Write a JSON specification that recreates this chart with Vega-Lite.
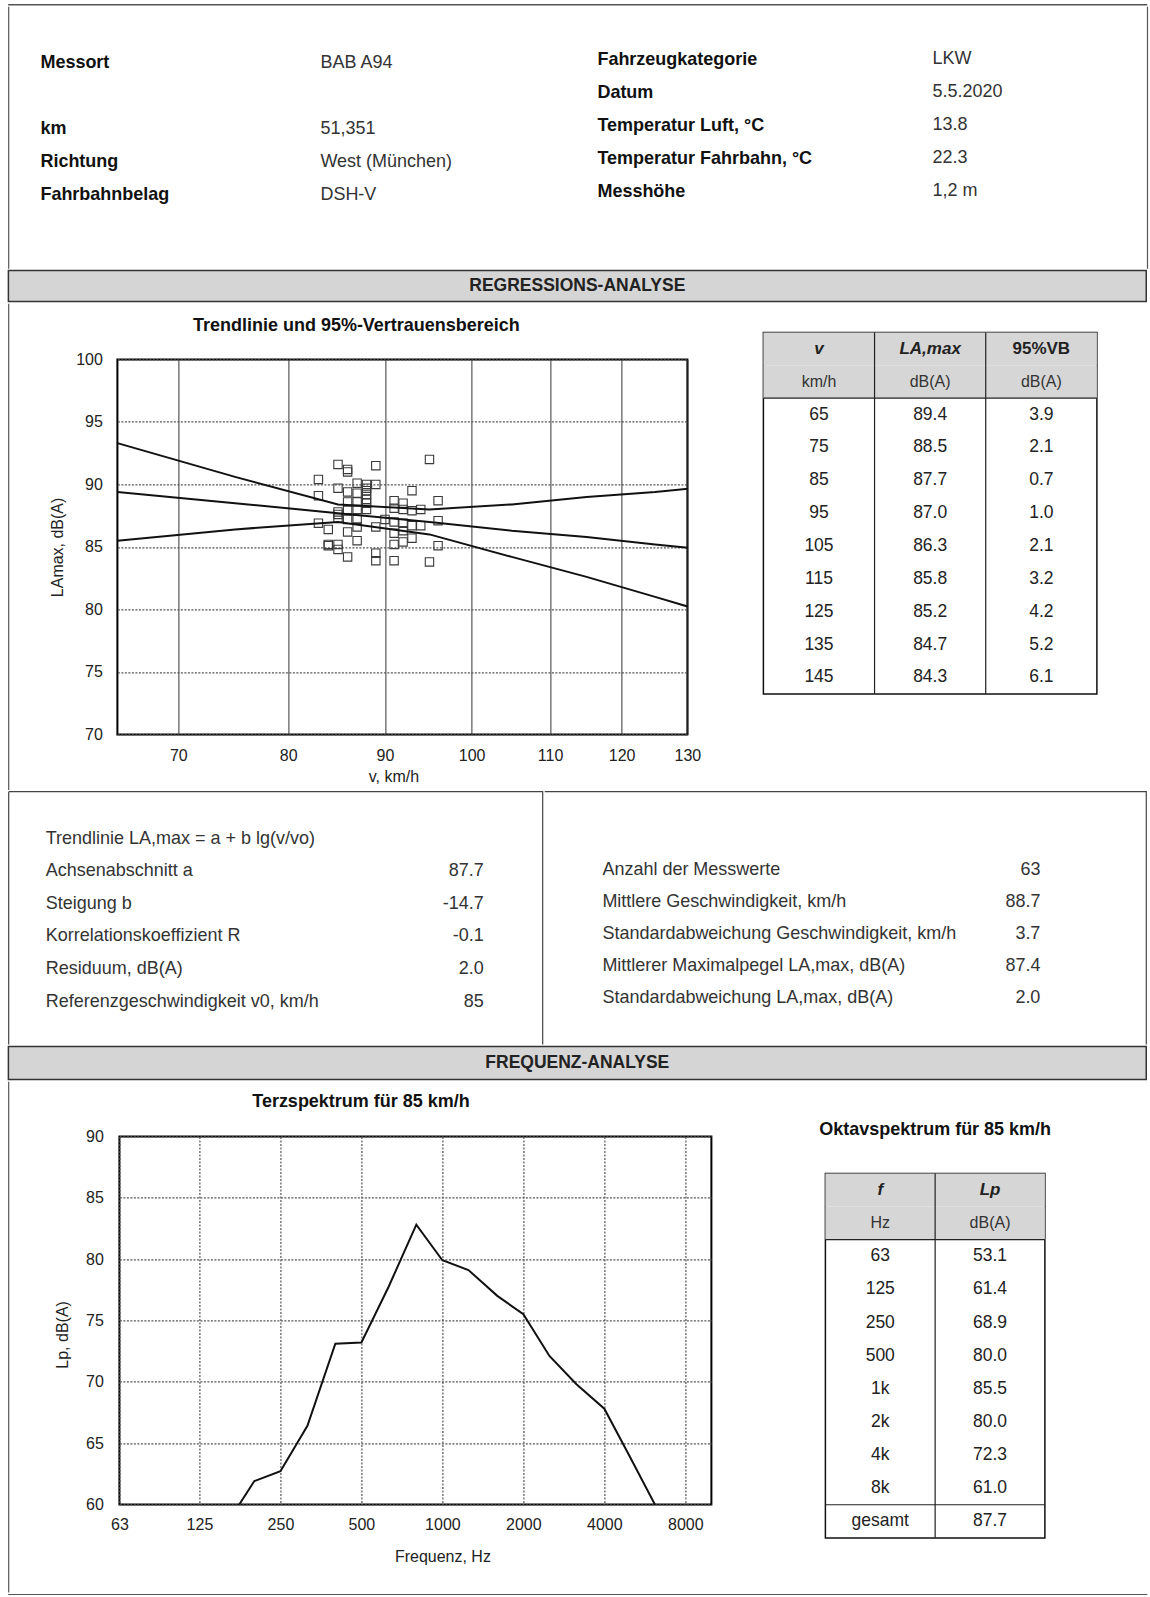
{
"$schema": "https://vega.github.io/schema/vega-lite/v6.json",
"background": "white",
"padding": {"left": 7.4, "top": 3.4, "right": 0, "bottom": 0},
"config": {
  "view": {"stroke": null},
  "font": "Liberation Sans",
  "text": {"font": "Liberation Sans"},
  "axis": {"labelFont": "Liberation Sans", "titleFont": "Liberation Sans", "labelFontSize": 16, "titleFontSize": 16, "titleFontWeight": "normal", "labelColor": "#222", "titleColor": "#222", "domain": false, "ticks": false, "tickSize": 0, "labelFlush": false, "labelOverlap": false},
  "title": {"font": "Liberation Sans", "fontSize": 18, "fontWeight": "bold", "color": "#111", "frame": "group", "baseline": "bottom", "anchor": "middle"}
},
"datasets": {
  "kopf": [
    {"spalte": "A", "zeile": 1, "text": "Messort"},
    {"spalte": "A", "zeile": 3, "text": "km"},
    {"spalte": "A", "zeile": 4, "text": "Richtung"},
    {"spalte": "A", "zeile": 5, "text": "Fahrbahnbelag"},
    {"spalte": "B", "zeile": 1, "text": "BAB A94"},
    {"spalte": "B", "zeile": 3, "text": "51,351"},
    {"spalte": "B", "zeile": 4, "text": "West (München)"},
    {"spalte": "B", "zeile": 5, "text": "DSH-V"},
    {"spalte": "C", "zeile": 1, "text": "Fahrzeugkategorie"},
    {"spalte": "C", "zeile": 2, "text": "Datum"},
    {"spalte": "C", "zeile": 3, "text": "Temperatur Luft, °C"},
    {"spalte": "C", "zeile": 4, "text": "Temperatur Fahrbahn, °C"},
    {"spalte": "C", "zeile": 5, "text": "Messhöhe"},
    {"spalte": "D", "zeile": 1, "text": "LKW"},
    {"spalte": "D", "zeile": 2, "text": "5.5.2020"},
    {"spalte": "D", "zeile": 3, "text": "13.8"},
    {"spalte": "D", "zeile": 4, "text": "22.3"},
    {"spalte": "D", "zeile": 5, "text": "1,2 m"}
  ],
  "tabelle": [
    {"v": 65, "L": 89.4, "VB": 3.9, "oben": 93.3, "unten": 85.5},
    {"v": 75, "L": 88.5, "VB": 2.1, "oben": 90.6, "unten": 86.4},
    {"v": 85, "L": 87.7, "VB": 0.7, "oben": 88.4, "unten": 87.0},
    {"v": 95, "L": 87.0, "VB": 1.0, "oben": 88.0, "unten": 86.0},
    {"v": 105, "L": 86.3, "VB": 2.1, "oben": 88.4, "unten": 84.2},
    {"v": 115, "L": 85.8, "VB": 3.2, "oben": 89.0, "unten": 82.6},
    {"v": 125, "L": 85.2, "VB": 4.2, "oben": 89.4, "unten": 81.0},
    {"v": 135, "L": 84.7, "VB": 5.2, "oben": 89.9, "unten": 79.5},
    {"v": 145, "L": 84.3, "VB": 6.1, "oben": 90.4, "unten": 78.2}
  ],
  "kopfReg": [
    {"spalte": "v", "zeile": "k1", "text": "v"},
    {"spalte": "v", "zeile": "k2", "text": "km/h"},
    {"spalte": "L", "zeile": "k1", "text": "LA,max"},
    {"spalte": "L", "zeile": "k2", "text": "dB(A)"},
    {"spalte": "VB", "zeile": "k1", "text": "95%VB"},
    {"spalte": "VB", "zeile": "k2", "text": "dB(A)"}
  ],
  "messwerte": [
    {"v": 83, "L": 90.4}, {"v": 83, "L": 89.1}, {"v": 83, "L": 86.9},
    {"v": 84, "L": 86.4}, {"v": 84, "L": 85.1}, {"v": 84, "L": 85.2},
    {"v": 85, "L": 91.6}, {"v": 85, "L": 89.7}, {"v": 85, "L": 87.8}, {"v": 85, "L": 87.6}, {"v": 85, "L": 87.3}, {"v": 85, "L": 85.2}, {"v": 85, "L": 84.8},
    {"v": 86, "L": 91.2}, {"v": 86, "L": 91.0}, {"v": 86, "L": 89.4}, {"v": 86, "L": 88.6}, {"v": 86, "L": 88.0}, {"v": 86, "L": 87.2}, {"v": 86, "L": 86.2}, {"v": 86, "L": 84.2},
    {"v": 87, "L": 90.1}, {"v": 87, "L": 89.3}, {"v": 87, "L": 88.6}, {"v": 87, "L": 88.0}, {"v": 87, "L": 87.2}, {"v": 87, "L": 86.6}, {"v": 87, "L": 85.5},
    {"v": 88, "L": 90.0}, {"v": 88, "L": 89.7}, {"v": 88, "L": 89.5}, {"v": 88, "L": 89.2}, {"v": 88, "L": 88.8}, {"v": 88, "L": 88.5}, {"v": 88, "L": 88.0},
    {"v": 89, "L": 91.5}, {"v": 89, "L": 90.0}, {"v": 89, "L": 86.6}, {"v": 89, "L": 84.5}, {"v": 89, "L": 83.9},
    {"v": 90, "L": 87.2},
    {"v": 91, "L": 88.7}, {"v": 91, "L": 88.1}, {"v": 91, "L": 87.0}, {"v": 91, "L": 86.1}, {"v": 91, "L": 85.2}, {"v": 91, "L": 83.9},
    {"v": 92, "L": 88.5}, {"v": 92, "L": 88.0}, {"v": 92, "L": 86.9}, {"v": 92, "L": 86.3}, {"v": 92, "L": 85.4},
    {"v": 93, "L": 89.5}, {"v": 93, "L": 87.9}, {"v": 93, "L": 86.7}, {"v": 93, "L": 85.7},
    {"v": 94, "L": 88.0}, {"v": 94, "L": 86.7},
    {"v": 95, "L": 92.0}, {"v": 95, "L": 83.8},
    {"v": 96, "L": 88.7}, {"v": 96, "L": 87.1}, {"v": 96, "L": 85.1}
  ],
  "statsL": [
    {"zeile": 0, "text": "Trendlinie  LA,max = a + b lg(v/vo)"},
    {"zeile": 1, "text": "Achsenabschnitt a", "wert": "87.7"},
    {"zeile": 2, "text": "Steigung b", "wert": "-14.7"},
    {"zeile": 3, "text": "Korrelationskoeffizient R", "wert": "-0.1"},
    {"zeile": 4, "text": "Residuum, dB(A)", "wert": "2.0"},
    {"zeile": 5, "text": "Referenzgeschwindigkeit v0, km/h", "wert": "85"}
  ],
  "statsR": [
    {"zeile": 1, "text": "Anzahl der Messwerte", "wert": "63"},
    {"zeile": 2, "text": "Mittlere Geschwindigkeit, km/h", "wert": "88.7"},
    {"zeile": 3, "text": "Standardabweichung Geschwindigkeit, km/h", "wert": "3.7"},
    {"zeile": 4, "text": "Mittlerer Maximalpegel LA,max, dB(A)", "wert": "87.4"},
    {"zeile": 5, "text": "Standardabweichung LA,max, dB(A)", "wert": "2.0"}
  ],
  "terz": [
    {"f": 160, "Lp": 58.6}, {"f": 200, "Lp": 61.9}, {"f": 250, "Lp": 62.7}, {"f": 315, "Lp": 66.4},
    {"f": 400, "Lp": 73.1}, {"f": 500, "Lp": 73.2}, {"f": 630, "Lp": 77.7}, {"f": 800, "Lp": 82.8},
    {"f": 1000, "Lp": 79.9}, {"f": 1250, "Lp": 79.1}, {"f": 1600, "Lp": 77.0}, {"f": 2000, "Lp": 75.5},
    {"f": 2500, "Lp": 72.1}, {"f": 3150, "Lp": 69.8}, {"f": 4000, "Lp": 67.8}, {"f": 5000, "Lp": 63.8},
    {"f": 6300, "Lp": 59.6}
  ],
  "oktav": [
    {"band": "63", "Lp": 53.1}, {"band": "125", "Lp": 61.4}, {"band": "250", "Lp": 68.9},
    {"band": "500", "Lp": 80.0}, {"band": "1k", "Lp": 85.5}, {"band": "2k", "Lp": 80.0},
    {"band": "4k", "Lp": 72.3}, {"band": "8k", "Lp": 61.0}, {"band": "gesamt", "Lp": 87.7}
  ],
  "kopfOkt": [
    {"spalte": "band", "zeile": "k1", "text": "f"},
    {"spalte": "band", "zeile": "k2", "text": "Hz"},
    {"spalte": "Lp", "zeile": "k1", "text": "Lp"},
    {"spalte": "Lp", "zeile": "k2", "text": "dB(A)"}
  ]
},
"spacing": 0,
"vconcat": [
  {"width": 1138, "height": 0.2, "view": {"stroke": "#555", "strokeWidth": 1.2}, "data": {"values": []}, "mark": "text", "encoding": {"text": {"value": ""}}},
  {"spacing": 0, "hconcat": [
    {"width": 31, "height": 262.1, "view": {"stroke": "#555", "strokeWidth": 1.2, "strokeDash": [0, 324.1, 262.1]}, "data": {"values": []}, "mark": "text", "encoding": {"text": {"value": ""}}},
    {"width": 280, "height": 262.1, "data": {"name": "kopf"}, "transform": [{"filter": "datum.spalte === 'A'"}],
     "mark": {"type": "text", "align": "left", "baseline": "middle", "fontSize": 18, "fontWeight": "bold", "color": "#111"},
     "encoding": {"x": {"field": "spalte", "type": "nominal", "axis": null, "bandPosition": 0, "scale": {"type": "band", "paddingInner": 0, "paddingOuter": 0}},
                  "y": {"field": "zeile", "type": "quantitative", "axis": null, "scale": {"domain": [-0.7273, 7.2151], "reverse": true, "nice": false, "zero": false}},
                  "text": {"field": "text"}}},
    {"width": 277, "height": 262.1, "data": {"name": "kopf"}, "transform": [{"filter": "datum.spalte === 'B'"}],
     "mark": {"type": "text", "align": "left", "baseline": "middle", "fontSize": 18, "color": "#333"},
     "encoding": {"x": {"field": "spalte", "type": "nominal", "axis": null, "bandPosition": 0, "scale": {"type": "band", "paddingInner": 0, "paddingOuter": 0}},
                  "y": {"field": "zeile", "type": "quantitative", "axis": null, "scale": {"domain": [-0.7273, 7.2151], "reverse": true, "nice": false, "zero": false}},
                  "text": {"field": "text"}}},
    {"width": 334, "height": 262.1, "data": {"name": "kopf"}, "transform": [{"filter": "datum.spalte === 'C'"}],
     "mark": {"type": "text", "align": "left", "baseline": "middle", "fontSize": 18, "fontWeight": "bold", "color": "#111"},
     "encoding": {"x": {"field": "spalte", "type": "nominal", "axis": null, "bandPosition": 0, "scale": {"type": "band", "paddingInner": 0, "paddingOuter": 0}},
                  "y": {"field": "zeile", "type": "quantitative", "axis": null, "scale": {"domain": [-0.6364, 7.306], "reverse": true, "nice": false, "zero": false}},
                  "text": {"field": "text"}}},
    {"width": 214.8, "height": 262.1, "view": {"stroke": "#555", "strokeWidth": 1.2, "strokeDash": [0, 214.8, 262.1, 476.9]}, "data": {"name": "kopf"}, "transform": [{"filter": "datum.spalte === 'D'"}],
     "mark": {"type": "text", "align": "left", "baseline": "middle", "fontSize": 18, "color": "#333"},
     "encoding": {"x": {"field": "spalte", "type": "nominal", "axis": null, "bandPosition": 0, "scale": {"type": "band", "paddingInner": 0, "paddingOuter": 0}},
                  "y": {"field": "zeile", "type": "quantitative", "axis": null, "scale": {"domain": [-0.6, 7.3424], "reverse": true, "nice": false, "zero": false}},
                  "text": {"field": "text"}}}
  ]},
  {"width": 1137.85, "height": 31, "view": {"fill": "#d5d5d5", "stroke": "#333", "strokeWidth": 1.5},
   "data": {"values": [{"titel": "REGRESSIONS-ANALYSE"}]},
   "mark": {"type": "text", "align": "center", "baseline": "middle", "fontSize": 17.5, "fontWeight": "bold", "color": "#222"},
   "encoding": {"text": {"field": "titel"}}},
  {"spacing": 0, "hconcat": [
    {"width": 38.9, "height": 486.4, "view": {"stroke": "#555", "strokeWidth": 1.2, "strokeDash": [0, 564.2, 486.4]}, "data": {"values": []}, "mark": "text", "encoding": {"text": {"value": ""}}},
    {"spacing": 0, "vconcat": [
      {"width": 1, "height": 12.8, "data": {"values": []}, "mark": "text", "encoding": {"text": {"value": ""}}},
      {"width": 570, "height": 375,
       "view": {"stroke": "#000", "strokeWidth": 2},
       "title": {"text": "Trendlinie und 95%-Vertrauensbereich", "offset": 15.9, "dx": -46},
       "layer": [
        {"data": {"name": "messwerte"},
         "mark": {"type": "point", "shape": "square", "filled": false, "size": 70, "color": "#3a3a3a", "strokeWidth": 1.1, "opacity": 1},
         "encoding": {
           "x": {"field": "v", "type": "quantitative", "scale": {"type": "log", "domain": [65, 130], "nice": false},
                 "axis": {"values": [70, 80, 90, 100, 110, 120, 130], "format": "d", "grid": true, "gridColor": "#333", "gridWidth": 1, "labelPadding": 13, "title": "v, km/h", "titlePadding": 5, "titleX": 276}},
           "y": {"field": "L", "type": "quantitative", "scale": {"domain": [70, 100], "nice": false, "zero": false},
                 "axis": {"values": [70, 75, 80, 85, 90, 95, 100], "grid": true, "gridColor": "#555", "gridDash": [2, 1.5], "gridWidth": 1.2, "labelPadding": 15, "title": "LAmax, dB(A)", "titlePadding": 10}}}},
        {"data": {"name": "tabelle"}, "transform": [{"fold": ["L", "oben", "unten"], "as": ["kurve", "pegel"]}],
         "mark": {"type": "line", "color": "#111", "strokeWidth": 2, "clip": true},
         "encoding": {
           "x": {"field": "v", "type": "quantitative", "axis": {"title": "v, km/h", "titleX": 276}},
           "y": {"field": "pegel", "type": "quantitative", "axis": {"title": "LAmax, dB(A)"}},
           "detail": {"field": "kurve"}}}
       ]}
    ]},
    {"width": 59, "height": 10, "data": {"values": []}, "mark": "text", "encoding": {"text": {"value": ""}}},
    {"spacing": 0, "vconcat": [
      {"width": 1, "height": 26.05, "data": {"values": []}, "mark": "text", "encoding": {"text": {"value": ""}}},
      {"width": 333.5, "height": 361.5, "view": {"stroke": "#111", "strokeWidth": 1.5},
       "layer": [
        {"data": {"name": "kopfReg"}, "mark": {"type": "rect", "color": "#d6d6d6"},
         "encoding": {
           "x": {"field": "spalte", "type": "nominal", "axis": null, "scale": {"type": "band", "domain": ["v", "L", "VB"], "paddingInner": 0, "paddingOuter": 0}},
           "y": {"field": "zeile", "type": "ordinal", "axis": null, "scale": {"type": "band", "domain": ["k1", "k2", 65, 75, 85, 95, 105, 115, 125, 135, 145], "paddingInner": 0, "paddingOuter": 0}}}},
        {"data": {"name": "kopfReg"}, "transform": [{"filter": "datum.zeile === 'k1' && datum.spalte !== 'v'"}],
         "mark": {"type": "rule", "color": "#222", "strokeWidth": 1.2},
         "encoding": {"x": {"field": "spalte", "type": "nominal", "axis": null, "bandPosition": 0}}},
        {"data": {"name": "tabelle"}, "transform": [{"filter": "datum.v === 65"}],
         "mark": {"type": "rule", "color": "#222", "strokeWidth": 1.2},
         "encoding": {"y": {"field": "v", "type": "ordinal", "axis": null, "bandPosition": 0}}},
        {"data": {"name": "kopfReg"}, "transform": [{"filter": "datum.zeile === 'k1' && datum.spalte !== 'VB'"}],
         "mark": {"type": "text", "fontSize": 17, "fontWeight": "bold", "fontStyle": "italic", "color": "#222"},
         "encoding": {"x": {"field": "spalte", "type": "nominal", "axis": null}, "y": {"field": "zeile", "type": "ordinal", "axis": null}, "text": {"field": "text"}}},
        {"data": {"name": "kopfReg"}, "transform": [{"filter": "datum.zeile === 'k1' && datum.spalte === 'VB'"}],
         "mark": {"type": "text", "fontSize": 17, "fontWeight": "bold", "color": "#222"},
         "encoding": {"x": {"field": "spalte", "type": "nominal", "axis": null}, "y": {"field": "zeile", "type": "ordinal", "axis": null}, "text": {"field": "text"}}},
        {"data": {"name": "kopfReg"}, "transform": [{"filter": "datum.zeile === 'k2'"}],
         "mark": {"type": "text", "fontSize": 16, "color": "#333"},
         "encoding": {"x": {"field": "spalte", "type": "nominal", "axis": null}, "y": {"field": "zeile", "type": "ordinal", "axis": null}, "text": {"field": "text"}}},
        {"data": {"name": "tabelle"}, "transform": [{"fold": ["v"], "as": ["spalte", "wert"]}],
         "mark": {"type": "text", "fontSize": 17.5, "color": "#222"},
         "encoding": {"x": {"field": "spalte", "type": "nominal", "axis": null}, "y": {"field": "v", "type": "ordinal", "axis": null}, "text": {"field": "wert", "type": "nominal"}}},
        {"data": {"name": "tabelle"}, "transform": [{"fold": ["L", "VB"], "as": ["spalte", "wert"]}],
         "mark": {"type": "text", "fontSize": 17.5, "color": "#222"},
         "encoding": {"x": {"field": "spalte", "type": "nominal", "axis": null}, "y": {"field": "v", "type": "ordinal", "axis": null}, "text": {"field": "wert", "type": "quantitative", "format": ".1f"}}}
       ]}
    ]},
    {"width": 52.5, "height": 486.4, "view": {"stroke": "#555", "strokeWidth": 1.2, "strokeDash": [0, 52.5, 486.4, 538.9]}, "data": {"values": []}, "mark": "text", "encoding": {"text": {"value": ""}}}
  ]},
  {"spacing": 0, "hconcat": [
    {"width": 534, "height": 252.8, "view": {"stroke": "#444", "strokeWidth": 1.2, "strokeDash": [786.8, 534, 252.8]},
     "data": {"name": "statsL"},
     "transform": [{"fold": ["text", "wert"], "as": ["spalte", "inhalt"]}, {"filter": "isValid(datum.inhalt)"}],
     "layer": [
      {"transform": [{"filter": "datum.spalte === 'text'"}],
       "mark": {"type": "text", "align": "left", "baseline": "middle", "fontSize": 18, "color": "#333"},
       "encoding": {
         "x": {"field": "spalte", "type": "nominal", "axis": null, "bandPosition": 0, "scale": {"type": "band", "domain": ["text", "wert"], "paddingInner": 0, "paddingOuter": 0.2192, "align": 0.3896}},
         "y": {"field": "zeile", "type": "quantitative", "axis": null, "scale": {"domain": [-1.448, 6.307], "reverse": true, "nice": false, "zero": false}},
         "text": {"field": "inhalt"}}},
      {"transform": [{"filter": "datum.spalte === 'wert'"}],
       "mark": {"type": "text", "align": "right", "baseline": "middle", "fontSize": 18, "color": "#333"},
       "encoding": {
         "x": {"field": "spalte", "type": "nominal", "axis": null, "bandPosition": 1},
         "y": {"field": "zeile", "type": "quantitative", "axis": null},
         "text": {"field": "inhalt"}}}
     ]},
    {"width": 601.6, "height": 252.8, "view": {"stroke": "#444", "strokeWidth": 1.2, "strokeDash": [854.4, 854.4]},
     "data": {"name": "statsR"},
     "transform": [{"fold": ["text", "wert"], "as": ["spalte", "inhalt"]}, {"filter": "isValid(datum.inhalt)"}],
     "layer": [
      {"transform": [{"filter": "datum.spalte === 'text'"}],
       "mark": {"type": "text", "align": "left", "baseline": "middle", "fontSize": 18, "color": "#333"},
       "encoding": {
         "x": {"field": "spalte", "type": "nominal", "axis": null, "bandPosition": 0, "scale": {"type": "band", "domain": ["text", "wert"], "paddingInner": 0, "paddingOuter": 0.3735, "align": 0.3545}},
         "y": {"field": "zeile", "type": "quantitative", "axis": null, "scale": {"domain": [-1.426, 6.425], "reverse": true, "nice": false, "zero": false}},
         "text": {"field": "inhalt"}}},
      {"transform": [{"filter": "datum.spalte === 'wert'"}],
       "mark": {"type": "text", "align": "right", "baseline": "middle", "fontSize": 18, "color": "#333"},
       "encoding": {
         "x": {"field": "spalte", "type": "nominal", "axis": null, "bandPosition": 1},
         "y": {"field": "zeile", "type": "quantitative", "axis": null},
         "text": {"field": "inhalt"}}}
     ]}
  ]},
  {"width": 1137.85, "height": 33, "view": {"fill": "#d5d5d5", "stroke": "#333", "strokeWidth": 1.5},
   "data": {"values": [{"titel": "FREQUENZ-ANALYSE"}]},
   "mark": {"type": "text", "align": "center", "baseline": "middle", "fontSize": 17.5, "fontWeight": "bold", "color": "#222"},
   "encoding": {"text": {"field": "titel"}}},
  {"spacing": 0, "hconcat": [
    {"width": 44.1, "height": 510.9, "view": {"stroke": "#555", "strokeWidth": 1.2, "strokeDash": [0, 599.1, 510.9]}, "data": {"values": []}, "mark": "text", "encoding": {"text": {"value": ""}}},
    {"spacing": 0, "vconcat": [
      {"width": 1, "height": 9.2, "data": {"values": []}, "mark": "text", "encoding": {"text": {"value": ""}}},
      {"width": 592, "height": 368, "view": {"stroke": "#000", "strokeWidth": 2},
       "title": {"text": "Terzspektrum für 85 km/h", "offset": 17.5, "dx": -54.4},
       "data": {"name": "terz"},
       "mark": {"type": "line", "color": "#111", "strokeWidth": 2, "clip": true},
       "encoding": {
         "x": {"field": "f", "type": "quantitative", "scale": {"type": "log", "domain": [63, 10000], "nice": false},
               "axis": {"values": [63, 125, 250, 500, 1000, 2000, 4000, 8000], "format": "d", "grid": true, "gridColor": "#555", "gridDash": [2, 1.5], "gridWidth": 1.2, "labelPadding": 12, "title": "Frequenz, Hz", "titlePadding": 16, "titleX": 323}},
         "y": {"field": "Lp", "type": "quantitative", "scale": {"domain": [60, 90], "nice": false, "zero": false},
               "axis": {"values": [60, 65, 70, 75, 80, 85, 90], "grid": true, "gridColor": "#555", "gridDash": [2, 1.5], "gridWidth": 1.2, "labelPadding": 16, "title": "Lp, dB(A)", "titlePadding": 15, "titleY": 198}}}}
    ]},
    {"width": 104.25, "height": 10, "data": {"values": []}, "mark": "text", "encoding": {"text": {"value": ""}}},
    {"spacing": 0, "vconcat": [
      {"width": 1, "height": 38.8, "data": {"values": []}, "mark": "text", "encoding": {"text": {"value": ""}}},
      {"width": 219.5, "height": 364.5, "view": {"stroke": "#111", "strokeWidth": 1.5},
       "title": {"text": "Oktavspektrum für 85 km/h", "offset": 33.3},
       "layer": [
        {"data": {"name": "kopfOkt"}, "mark": {"type": "rect", "color": "#d6d6d6"},
         "encoding": {
           "x": {"field": "spalte", "type": "nominal", "axis": null, "scale": {"type": "band", "domain": ["band", "Lp"], "paddingInner": 0, "paddingOuter": 0}},
           "y": {"field": "zeile", "type": "ordinal", "axis": null, "scale": {"type": "band", "domain": ["k1", "k2", "63", "125", "250", "500", "1k", "2k", "4k", "8k", "gesamt"], "paddingInner": 0, "paddingOuter": 0}}}},
        {"data": {"name": "kopfOkt"}, "transform": [{"filter": "datum.zeile === 'k1' && datum.spalte === 'Lp'"}],
         "mark": {"type": "rule", "color": "#222", "strokeWidth": 1.2},
         "encoding": {"x": {"field": "spalte", "type": "nominal", "axis": null, "bandPosition": 0}}},
        {"data": {"name": "oktav"}, "transform": [{"filter": "datum.band === '63' || datum.band === 'gesamt'"}],
         "mark": {"type": "rule", "color": "#222", "strokeWidth": 1.2},
         "encoding": {"y": {"field": "band", "type": "ordinal", "axis": null, "bandPosition": 0}}},
        {"data": {"name": "kopfOkt"}, "transform": [{"filter": "datum.zeile === 'k1'"}],
         "mark": {"type": "text", "fontSize": 17, "fontWeight": "bold", "fontStyle": "italic", "color": "#222"},
         "encoding": {"x": {"field": "spalte", "type": "nominal", "axis": null}, "y": {"field": "zeile", "type": "ordinal", "axis": null}, "text": {"field": "text"}}},
        {"data": {"name": "kopfOkt"}, "transform": [{"filter": "datum.zeile === 'k2'"}],
         "mark": {"type": "text", "fontSize": 16, "color": "#333"},
         "encoding": {"x": {"field": "spalte", "type": "nominal", "axis": null}, "y": {"field": "zeile", "type": "ordinal", "axis": null}, "text": {"field": "text"}}},
        {"data": {"name": "oktav"}, "transform": [{"fold": ["band"], "as": ["spalte", "wert"]}],
         "mark": {"type": "text", "fontSize": 17.5, "color": "#222"},
         "encoding": {"x": {"field": "spalte", "type": "nominal", "axis": null}, "y": {"field": "band", "type": "ordinal", "axis": null}, "text": {"field": "wert", "type": "nominal"}}},
        {"data": {"name": "oktav"}, "transform": [{"fold": ["Lp"], "as": ["spalte", "wert"]}],
         "mark": {"type": "text", "fontSize": 17.5, "color": "#222"},
         "encoding": {"x": {"field": "spalte", "type": "nominal", "axis": null}, "y": {"field": "band", "type": "ordinal", "axis": null}, "text": {"field": "wert", "type": "quantitative", "format": ".1f"}}}
       ]}
    ]},
    {"width": 98.65, "height": 510.9, "view": {"stroke": "#555", "strokeWidth": 1.2, "strokeDash": [0, 98.65, 510.9, 609.55]}, "data": {"values": []}, "mark": "text", "encoding": {"text": {"value": ""}}}
  ]},
  {"width": 1138, "height": 0.2, "view": {"stroke": "#555", "strokeWidth": 1.2}, "data": {"values": []}, "mark": "text", "encoding": {"text": {"value": ""}}}
]
}
